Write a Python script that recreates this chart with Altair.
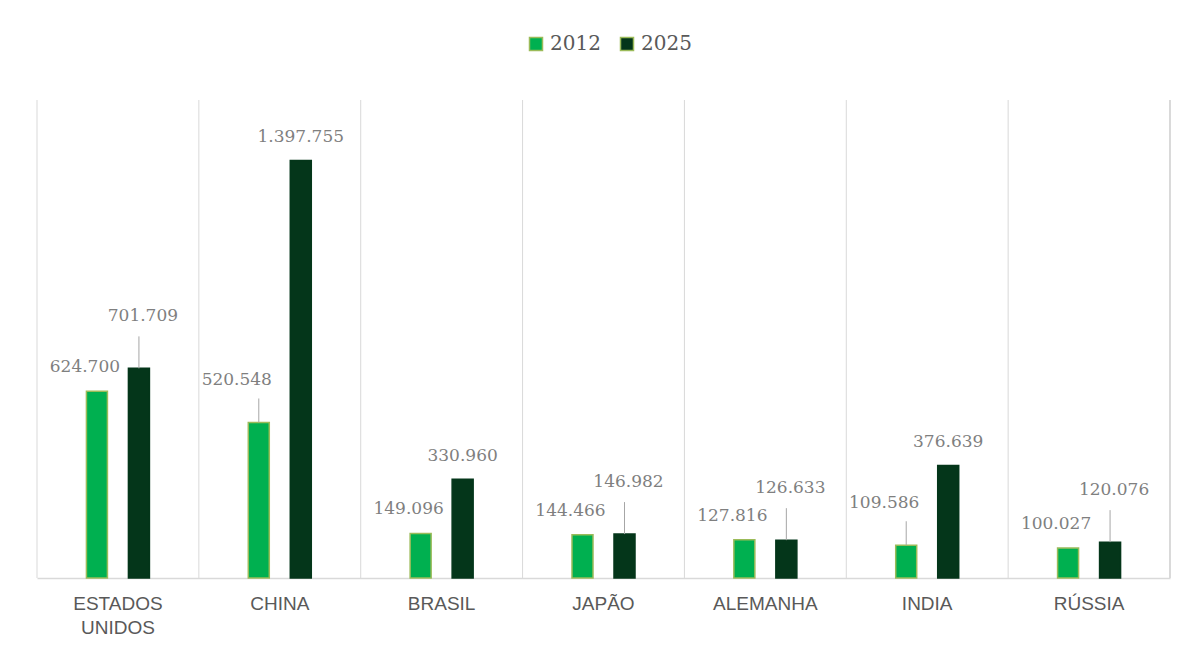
import altair as alt
import pandas as pd

countries = ["ESTADOS UNIDOS", "CHINA", "BRASIL", "JAPÃO", "ALEMANHA", "INDIA", "RÚSSIA"]
values_2012 = [624700, 520548, 149096, 144466, 127816, 109586, 100027]
values_2025 = [701709, 1397755, 330960, 146982, 126633, 376639, 120076]
leader_2012 = [False, True, False, False, False, True, False]
leader_2025 = [True, False, False, True, True, False, True]
years = ["2012", "2025"]


def fmt(v):
    return f"{v:,}".replace(",", ".")


rows = []
for c, a, b, la, lb in zip(countries, values_2012, values_2025, leader_2012, leader_2025):
    rows.append(dict(country=c, year="2012", value=a, label=fmt(a), leader=int(la)))
    rows.append(dict(country=c, year="2025", value=b, label=fmt(b), leader=int(lb)))
df = pd.DataFrame(rows)
cdf = pd.DataFrame({"country": countries})

W, H = 1133, 478
GRID = "#D9D9D9"
HALF = W / 14

x_scale = alt.Scale(domain=countries, paddingInner=0, paddingOuter=0)
x_main = alt.X(
    "country:N",
    scale=x_scale,
    axis=alt.Axis(title=None, labels=False, ticks=False, grid=False, domainColor=GRID, domainWidth=1.5),
)
x_plain = alt.X("country:N", scale=x_scale)
y_scale = alt.Scale(domain=[0, 1600000], nice=False, zero=True)
y_enc = alt.Y("value:Q", scale=y_scale, axis=None)

legend = alt.Legend(
    orient="none", legendX=489, legendY=-66, direction="horizontal", title=None,
    labelFont="DejaVu Serif", labelFontSize=20, labelColor="#595959",
    symbolType="square", symbolSize=169,
    columnPadding=16, labelOffset=4,
)
color_enc = alt.Color("year:N", scale=alt.Scale(domain=years, range=["#00B050", "#04361A"]), legend=legend)

grid = alt.Chart(cdf).mark_rule(color=GRID, strokeWidth=1, xOffset=-HALF).encode(
    x=x_main, y=alt.value(0), y2=alt.value(H)
)
right_grid = alt.Chart(cdf).mark_rule(color=GRID, strokeWidth=1).encode(
    x=alt.value(W), y=alt.value(0), y2=alt.value(H)
)
cat_labels = alt.Chart(cdf).mark_text(
    font="Liberation Sans", fontSize=19, color="#595959", baseline="top",
    align="center", lineBreak=" ", lineHeight=24,
).encode(x=x_plain, y=alt.value(H + 17), text="country:N")


def year_layers(yr, off, lab_dx, lab_dy, lead_dx, lead_dy, line_dy, strokec):
    base = alt.Chart(df).transform_filter("datum.year == '" + yr + "'")
    bars = base.mark_bar(width=21, xOffset=off, strokeWidth=1.5, stroke=strokec).encode(
        x=x_plain, y=y_enc, color=color_enc
    )
    txt_style = dict(font="DejaVu Serif", fontSize=17, color="#7F7F7F", baseline="middle", align="center")
    plain = base.transform_filter("datum.leader == 0").mark_text(
        xOffset=off + lab_dx, yOffset=lab_dy, **txt_style
    ).encode(x=x_plain, y=y_enc, text="label:N")
    lead = base.transform_filter("datum.leader == 1").mark_text(
        xOffset=off + lead_dx, yOffset=lead_dy, **txt_style
    ).encode(x=x_plain, y=y_enc, text="label:N")
    rule = base.transform_filter("datum.leader == 1").mark_rule(
        color="#A6A6A6", strokeWidth=1, xOffset=off, y2Offset=line_dy
    ).encode(x=x_plain, y=y_enc, y2=alt.Y2("value"))
    return [bars, plain, rule, lead]


layers = (
    [grid, right_grid, cat_labels]
    + year_layers("2012", -21, -12, -24, -22, -42, -24, "#9BBB59")
    + year_layers("2025", 21, 0, -23, 4, -52, -32, "#04361A")
)

chart = alt.layer(*layers).properties(
    width=W, height=H,
    autosize=alt.AutoSizeParams(type="none"),
    padding={"left": 37, "top": 100, "right": 17, "bottom": 72},
).configure_view(stroke=None)

chart.save("out.html", embed_options={"renderer": "svg", "actions": False})
